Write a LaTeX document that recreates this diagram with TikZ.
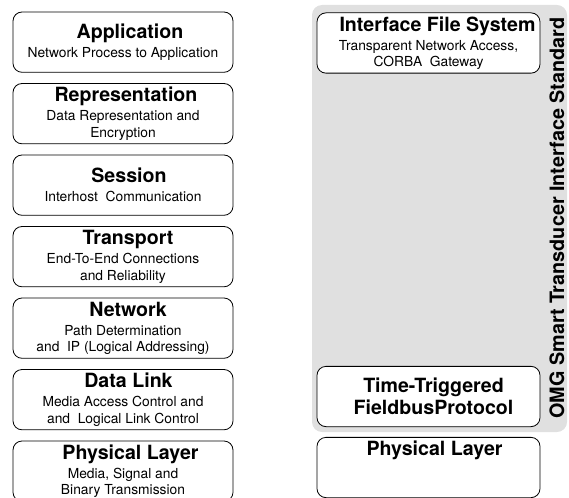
\documentclass[tikz,border=0pt]{standalone}
\usepackage{fontspec}
\setmainfont{TeX Gyre Heros}
\usetikzlibrary{positioning}

\newcommand{\ttlfont}{\fontsize{19.6}{21}\selectfont\bfseries}
\newcommand{\subfont}{\fontsize{13.8}{16.5}\selectfont}
\newcommand{\vertfont}{\fontsize{19.8}{22}\selectfont\bfseries}
% title line, pushed right by half of #1
\newcommand{\ttl}[2][12pt]{{\ttlfont\hspace*{#1}#2}}

\begin{document}
\begin{tikzpicture}[x=1pt,y=-1pt,line cap=round]
      \useasboundingbox (0,0) rectangle (569,497);

      \tikzstyle{osilayer}=[draw, fill=white, line width=0.8pt, rounded corners=9pt, minimum width=220pt, minimum height=60.3pt, inner sep=0pt, align=center, font=\subfont];
      \tikzstyle{omglayer}=[osilayer, minimum width=223pt];

      % OSI reference model
      \node[osilayer] (app) at (123,42.15) {\ttl[14pt]{Application}\\[2.5pt] Network Process to Application};
      \node[osilayer, below=10.4pt of app] (repr) {\ttl[6pt]{Representation}\\[2.5pt] Data Representation and\\ Encryption};
      \node[osilayer, below=10.4pt of repr] (sess) {\ttl{Session}\\[2.5pt] Interhost\ \ Communication};
      \node[osilayer, below=10.4pt of sess] (trans) {\ttl[10pt]{Transport}\\[2.5pt] End-To-End Connections\\ and Reliability};
      \node[osilayer, below=10.4pt of trans] (net) {\ttl[10pt]{Network}\\[2.5pt] Path Determination\\ and\ \ IP (Logical Addressing)};
      \node[osilayer, below=10.4pt of net] (link) {\ttl[11pt]{Data Link}\\[2.5pt] Media Access Control and\\ and\ \ Logical Link Control};
      \node[osilayer, below=10.4pt of link] (phys) {\ttl[15pt]{Physical Layer}\\[2.5pt] Media, Signal and\\ Binary Transmission};

      % OMG smart transducer interface
      \draw[fill=black!12, draw=none, rounded corners=10pt] (312,5) rectangle (567,432);
      \node[rotate=90, font=\vertfont] (omg) at (557,218) {OMG Smart Transducer Interface Standard};

      \node[omglayer] (ifs) at (428.5,43) {\ttl[18pt]{Interface File System}\\[2.5pt] Transparent Network Access,\\ CORBA\ \ Gateway};
      \node[omglayer] (ttp) at (428.5,396.5) {\ttl[10pt]{Time-Triggered}\\[2pt] \ttl[10pt]{FieldbusProtocol}};
      \node[omglayer, below=9.9pt of ttp] (phys2) {\ttl{Physical Layer}\\[2.5pt] \phantom{Media, Signal and}\\ \phantom{Binary Transmission}};
    \end{tikzpicture}
\end{document}
